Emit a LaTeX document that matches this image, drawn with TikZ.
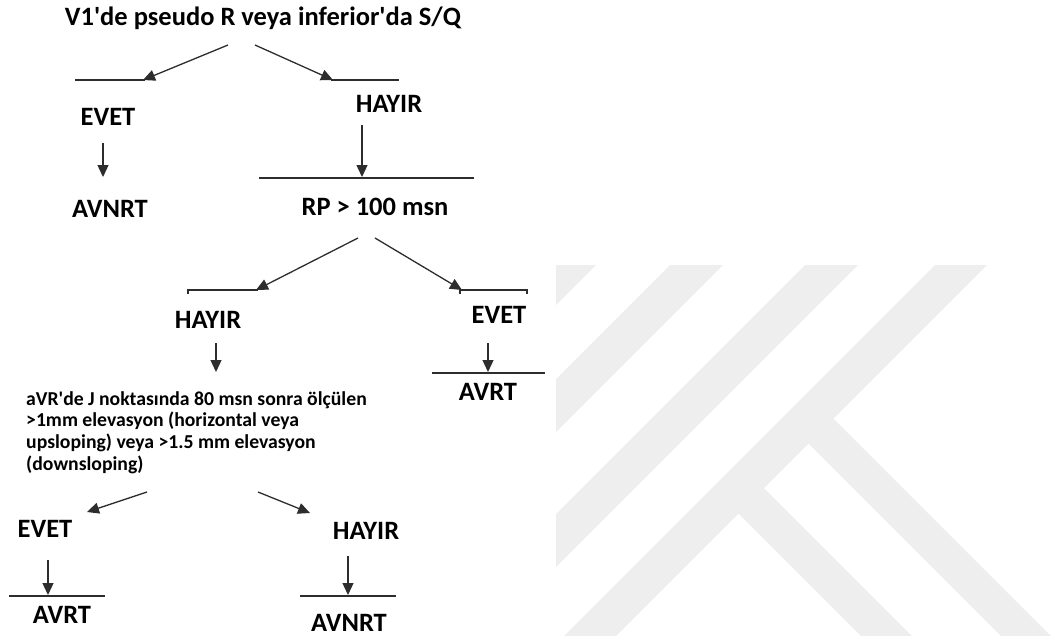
\documentclass[tikz,border=0pt]{standalone}
\usepackage{fontspec}
\setmainfont{Carlito}
\usetikzlibrary{arrows.meta}
\definecolor{wm}{RGB}{238,238,238}
\definecolor{ln}{RGB}{45,45,45}
\newcommand{\aq}{\textquotesingle}
\begin{document}
\begin{tikzpicture}[x=1pt,y=-1pt,
 lbl/.style={font=\fontsize{26.5}{30}\selectfont\bfseries, anchor=base, inner sep=0pt},
 arr/.style={draw=ln, line width=1.3pt, -{Triangle[length=12pt,width=11pt]}},
 bar/.style={draw=ln, line width=1.3pt}]
\useasboundingbox (0,0) rectangle (1055,641);
% watermark
\begin{scope}
\clip (556,265) rectangle (1055,635);
\fill[wm] (609,200) -- (661,200) -- (161,700) -- (109,700) -- cycle;
\fill[wm] (735,200) -- (788,200) -- (288,700) -- (235,700) -- cycle;
\fill[wm] (870,200) -- (923,200) -- (423,700) -- (370,700) -- cycle;
\fill[wm] (1000,200) -- (1052,200) -- (552,700) -- (500,700) -- cycle;
\fill[wm] (758,482) -- (976,700) -- (925,700) -- (732.5,507.5) -- cycle;
\fill[wm] (827.5,412.5) -- (1115,700) -- (1065,700) -- (802.5,437.5) -- cycle;
\end{scope}
% level 1
\node[lbl] (title) at (263,25) {V1\aq de pseudo R veya inferior\aq da S/Q};
\coordinate (a1s) at (228,45); \coordinate (a1e) at (143,80);
\coordinate (a2s) at (255,45); \coordinate (a2e) at (333,80);
\coordinate (b1l) at (75,80);  \coordinate (b1r) at (145,80);
\coordinate (b2l) at (331,80); \coordinate (b2r) at (399,80);
\draw[bar] (b1l) -- (b1r);
\draw[bar] (b2l) -- (b2r);
\draw[arr] (a1s) -- (a1e);
\draw[arr] (a2s) -- (a2e);
\node[lbl] (evet1) at (108,125) {EVET};
\node[lbl] (hayir1) at (389,112) {HAYIR};
\coordinate (e1s) at (103,143); \coordinate (e1e) at (103,177);
\draw[arr] (e1s) -- (e1e);
\node[lbl] (avnrt1) at (110,217) {AVNRT};
\coordinate (h1s) at (362,125); \coordinate (h1e) at (362,177);
\coordinate (b3l) at (259,178); \coordinate (b3r) at (474,178);
\draw[bar] (b3l) -- (b3r);
\draw[arr] (h1s) -- (h1e);
\node[lbl] (rp) at (375,215) {RP > 100 msn};
% level 2
\coordinate (r1s) at (358,238); \coordinate (r1e) at (256,290);
\coordinate (r2s) at (375,238); \coordinate (r2e) at (462,290);
\coordinate (b4a) at (188,294); \coordinate (b4b) at (188,290); \coordinate (b4c) at (258,290);
\coordinate (b5a) at (460,294); \coordinate (b5b) at (460,290); \coordinate (b5c) at (527,290); \coordinate (b5d) at (527,294);
\draw[bar] (b4a) -- (b4b) -- (b4c);
\draw[bar] (b5a) -- (b5b) -- (b5c) -- (b5d);
\draw[arr] (r1s) -- (r1e);
\draw[arr] (r2s) -- (r2e);
\node[lbl] (hayir2) at (208,328) {HAYIR};
\node[lbl] (evet2) at (499,323) {EVET};
\coordinate (h2s) at (216,343); \coordinate (h2e) at (216,372);
\draw[arr] (h2s) -- (h2e);
\coordinate (e2s) at (488,343); \coordinate (e2e) at (488,372);
\coordinate (b6l) at (432,373); \coordinate (b6r) at (545,373);
\draw[bar] (b6l) -- (b6r);
\draw[arr] (e2s) -- (e2e);
\node[lbl] (avrt2) at (488,400) {AVRT};
% paragraph
\node[anchor=north west, inner sep=0pt, align=left, font=\fontsize{19.7}{21.7}\selectfont\bfseries] (avr) at (26,391)
 {aVR\aq de J noktasında 80 msn sonra ölçülen\\ >1mm elevasyon (horizontal veya\\ upsloping) veya >1.5 mm elevasyon\\ (downsloping)};
% level 3
\coordinate (p1s) at (147,492); \coordinate (p1e) at (87,512);
\coordinate (p2s) at (258,492); \coordinate (p2e) at (310,513);
\draw[arr] (p1s) -- (p1e);
\draw[arr] (p2s) -- (p2e);
\node[lbl] (evet3) at (45,537) {EVET};
\node[lbl] (hayir3) at (366,539) {HAYIR};
\coordinate (e3s) at (48,560); \coordinate (e3e) at (48,595);
\coordinate (b7l) at (9,596); \coordinate (b7r) at (105,596);
\draw[bar] (b7l) -- (b7r);
\draw[arr] (e3s) -- (e3e);
\node[lbl] (avrt3) at (62,623) {AVRT};
\coordinate (h3s) at (348,556); \coordinate (h3e) at (348,595);
\coordinate (b8l) at (300,596); \coordinate (b8r) at (396,596);
\draw[bar] (b8l) -- (b8r);
\draw[arr] (h3s) -- (h3e);
\node[lbl] (avnrt3) at (349,631) {AVNRT};
\end{tikzpicture}
\end{document}
